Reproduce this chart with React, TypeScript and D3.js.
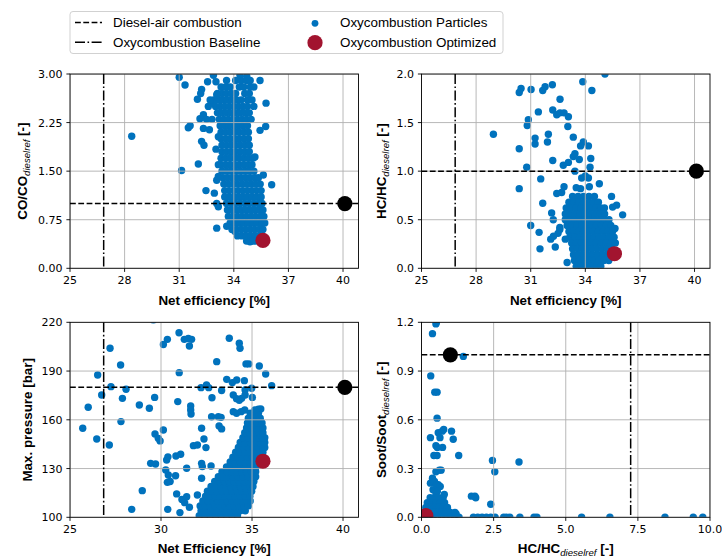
import React from 'react';
import * as d3 from 'd3';

const BLUE = '#0072BD';
const RED = '#A2142F';

// ---- reference operating points ----
const EFF_BASELINE = 26.85;
const EFF_DIESEL = 40.1;
const EFF_OPT = 35.6;
const CO_DIESEL = 1.0;
const CO_OPT = 0.43;
const HC_DIESEL = 1.0;
const HC_OPT = 0.15;
const HC_BASELINE = 7.25;
const PMAX_DIESEL = 180;
const PMAX_OPT = 134.5;
const SOOT_DIESEL = 1.0;
const SOOT_OPT = 0.01;

// ---- tick labels ----
const EFF_TICKS_A = [25, 28, 31, 34, 37, 40];
const EFF_TICKS_B = [25, 30, 35, 40];
const CO_TICKS = [0, 0.75, 1.5, 2.25, 3.0];
const HC_TICKS = [0, 0.5, 1.0, 1.5, 2.0];
const PMAX_TICKS = [100, 130, 160, 190, 220];
const HCX_TICKS = [0, 2.5, 5.0, 7.5, 10.0];
const SOOT_TICKS = [0, 0.3, 0.6, 0.9, 1.2];

// ---- CO vs efficiency: scattered particles ----
const coScatter: [number, number][] = [
  [28.39, 2.04], [31.0, 2.95], [31.32, 2.83], [31.13, 1.51], [31.5, 2.17], [31.6, 2.2], [32.05, 1.61],
  [32.18, 2.7], [32.23, 2.76], [32.14, 2.31], [32.33, 2.37], [32.23, 1.96], [32.36, 1.9], [32.33, 2.16],
  [32.0, 2.61], [32.47, 1.2], [32.93, 1.16], [32.66, 2.14], [32.56, 2.88], [33.02, 2.88], [32.88, 2.98],
  [33.06, 0.62], [33.15, 0.95], [33.06, 1.0], [33.06, 1.36], [33.15, 1.42], [33.15, 1.6], [33.02, 1.84],
  [33.15, 2.03], [32.88, 2.55], [33.06, 2.68], [33.61, 0.65], [34.07, 0.57], [34.89, 0.41], [35.05, 0.42],
  [35.44, 2.9], [35.77, 2.55], [35.75, 2.19], [35.44, 2.13], [36.08, 1.29], [35.62, 1.44], [35.16, 1.72],
  [34.71, 2.96], [34.34, 2.98], [32.7, 2.6], [32.6, 2.5], [32.8, 2.3], [32.5, 2.3],
];
// ---- CO vs efficiency: dense cloud, rows of [CO, efficiencies] ----
const coCloud: [number, number[]][] = [
  [2.9, [33.6, 34.1, 34.4, 34.7, 34.9]],
  [2.8, [33.3, 33.55, 33.8, 34.3, 34.55, 34.9, 35.1]],
  [2.7, [33.1, 33.35, 33.6, 33.85, 34.1, 34.6, 34.85]],
  [2.6, [32.9, 33.15, 33.4, 33.65, 33.9, 34.15, 34.4, 34.75, 35.0]],
  [2.5, [33.0, 33.25, 33.5, 33.75, 34.0, 34.25, 34.5, 34.75, 35.1]],
  [2.4, [33.1, 33.35, 33.6, 33.85, 34.1, 34.35, 34.6, 34.85]],
  [2.3, [33.2, 33.45, 33.7, 33.95, 34.2, 34.45, 34.7, 34.95]],
  [2.2, [33.25, 33.5, 33.75, 34.0, 34.25, 34.5, 34.75]],
  [2.1, [33.3, 33.55, 33.8, 34.05, 34.3, 34.55, 34.8]],
  [2.0, [33.3, 33.55, 33.8, 34.05, 34.3, 34.55, 34.8]],
  [1.9, [33.35, 33.6, 33.85, 34.1, 34.35, 34.6, 34.85]],
  [1.8, [33.35, 33.6, 33.85, 34.1, 34.35, 34.6, 34.85]],
  [1.7, [33.3, 33.55, 33.8, 34.05, 34.3, 34.55, 34.8, 35.05]],
  [1.6, [33.3, 33.55, 33.8, 34.05, 34.3, 34.55, 34.8, 35.0]],
  [1.5, [33.35, 33.6, 33.85, 34.1, 34.35, 34.6, 34.85, 35.1]],
  [1.4, [33.4, 33.65, 33.9, 34.15, 34.4, 34.65, 34.9, 35.15, 35.35]],
  [1.3, [33.45, 33.7, 33.95, 34.2, 34.45, 34.7, 34.95, 35.2, 35.45]],
  [1.2, [33.5, 33.75, 34.0, 34.25, 34.5, 34.75, 35.0, 35.25, 35.5]],
  [1.1, [33.5, 33.75, 34.0, 34.25, 34.5, 34.75, 35.0, 35.25, 35.5]],
  [1.0, [33.6, 33.85, 34.1, 34.35, 34.6, 34.85, 35.1, 35.35, 35.55]],
  [0.9, [33.65, 33.9, 34.15, 34.4, 34.65, 34.9, 35.15, 35.4, 35.6]],
  [0.8, [33.7, 33.95, 34.2, 34.45, 34.7, 34.95, 35.2, 35.45, 35.65]],
  [0.7, [33.8, 34.05, 34.3, 34.55, 34.8, 35.05, 35.3, 35.55, 35.7]],
  [0.6, [33.9, 34.15, 34.4, 34.65, 34.9, 35.15, 35.4, 35.6]],
  [0.5, [34.2, 34.45, 34.7, 34.95, 35.2, 35.45]],
  [0.42, [34.7, 34.95, 35.2, 35.45]],
];

// ---- HC vs efficiency ----
const hcScatter: [number, number][] = [
  [28.95, 1.38], [30.37, 1.81], [30.47, 1.85], [30.37, 0.82], [30.37, 1.23], [30.78, 1.04], [30.81, 1.47],
  [30.87, 1.53], [31.02, 1.84], [31.0, 0.44], [31.24, 1.34], [31.24, 1.28], [31.42, 1.61], [31.46, 0.37],
  [31.51, 0.2], [31.55, 0.92], [31.66, 0.67], [31.66, 1.83], [31.79, 1.87], [31.92, 1.3], [31.97, 1.38],
  [32.19, 1.89], [32.21, 1.63], [32.21, 1.11], [32.61, 1.74], [32.43, 1.58], [32.61, 1.6], [32.83, 1.6],
  [33.07, 1.56], [33.04, 1.46], [32.79, 1.06], [33.07, 1.09], [33.34, 1.35], [33.34, 1.15], [33.43, 1.18],
  [33.67, 1.12], [33.43, 1.0], [33.86, 1.92], [34.36, 1.83], [35.08, 2.0], [33.89, 1.3], [33.74, 1.26],
  [34.17, 1.26], [34.3, 1.13], [34.26, 1.04], [34.17, 0.93], [34.0, 0.95], [33.8, 0.93], [33.74, 0.82],
  [33.5, 0.83], [34.22, 0.84], [34.77, 0.87], [32.83, 0.84], [32.7, 0.78], [35.72, 0.65], [35.5, 0.63],
  [36.05, 0.55], [35.44, 0.74], [35.63, 0.41], [33.0, 0.06], [32.15, 0.57], [32.24, 0.5], [32.6, 0.42],
  [32.5, 0.36], [32.25, 0.33], [32.1, 0.3], [32.35, 0.22], [32.6, 0.4], [32.9, 0.3], [32.43, 0.77],
];
const hcCloud: [number, number[]][] = [
  [0.74, [33.3, 33.6, 33.9, 34.2, 34.5]],
  [0.68, [33.1, 33.37, 33.64, 33.91, 34.18, 34.45, 34.72]],
  [0.62, [32.95, 33.22, 33.49, 33.76, 34.03, 34.3, 34.57, 34.84, 35.05]],
  [0.56, [32.9, 33.17, 33.44, 33.71, 33.98, 34.25, 34.52, 34.79, 35.06]],
  [0.5, [32.9, 33.17, 33.44, 33.71, 33.98, 34.25, 34.52, 34.79, 35.06, 35.3]],
  [0.44, [33.0, 33.27, 33.54, 33.81, 34.08, 34.35, 34.62, 34.89, 35.16, 35.4]],
  [0.38, [33.1, 33.37, 33.64, 33.91, 34.18, 34.45, 34.72, 34.99, 35.26, 35.5]],
  [0.32, [33.15, 33.42, 33.69, 33.96, 34.23, 34.5, 34.77, 35.04, 35.31, 35.58]],
  [0.26, [33.25, 33.52, 33.79, 34.06, 34.33, 34.6, 34.87, 35.14, 35.41, 35.65]],
  [0.2, [33.3, 33.57, 33.84, 34.11, 34.38, 34.65, 34.92, 35.19, 35.46]],
  [0.14, [33.35, 33.62, 33.89, 34.16, 34.43, 34.7, 34.97, 35.24, 35.5]],
  [0.08, [33.4, 33.67, 33.94, 34.21, 34.48, 34.75, 35.02, 35.29]],
  [0.02, [33.5, 33.77, 34.04, 34.31, 34.58, 34.85]],
];

// ---- Max. pressure vs efficiency ----
const pmaxScatter: [number, number][] = [
  [25.7, 154.8], [26.0, 167.7], [26.47, 148.2], [26.52, 187.6], [26.74, 175.3], [27.2, 204.0], [27.16, 144.5],
  [27.25, 180.4], [27.78, 193.7], [27.8, 158.9], [27.88, 173.2], [28.08, 178.8], [28.39, 104.9], [28.81, 169.1],
  [28.97, 116.4], [29.36, 167.1], [29.43, 133.2], [29.58, 221.5], [29.65, 173.8], [29.67, 151.3], [29.85, 148.6],
  [29.95, 147.0], [29.7, 132.8], [30.13, 206.3], [30.35, 209.5], [30.13, 153.7], [30.31, 135.3], [30.38, 137.2],
  [30.26, 129.1], [30.4, 126.0], [30.5, 122.0], [30.35, 121.5], [30.37, 104.9], [30.8, 125.6], [30.86, 114.4],
  [30.92, 171.2], [30.99, 213.6], [31.0, 189.0], [30.82, 137.7], [31.08, 138.8], [31.04, 102.9], [31.3, 109.0],
  [31.15, 111.0], [31.28, 209.5], [31.5, 210.0], [31.68, 209.5], [31.56, 205.4], [31.41, 130.2], [31.41, 112.7],
  [31.56, 106.2], [31.63, 168.5], [31.63, 166.0], [31.65, 163.6], [31.78, 144.1], [32.0, 144.5], [32.2, 179.8],
  [32.5, 181.4], [32.62, 179.8], [32.23, 154.8], [32.36, 148.2], [32.23, 133.2], [32.27, 131.2], [32.47, 142.9],
  [32.8, 173.6], [32.78, 161.9], [32.75, 131.6], [33.06, 195.8], [33.15, 161.9], [33.3, 161.5], [33.19, 156.2],
  [33.33, 154.4], [33.33, 178.0], [33.61, 184.9], [33.75, 210.2], [33.92, 182.9], [34.16, 184.5], [34.3, 207.1],
  [34.34, 204.0], [33.97, 175.3], [34.15, 173.0], [34.3, 172.0], [34.43, 173.2], [34.62, 175.3], [34.58, 184.1],
  [34.67, 194.4], [34.82, 194.4], [34.62, 178.4], [34.98, 179.4], [35.02, 173.8], [35.4, 193.1], [35.75, 188.2],
  [36.08, 181.0], [33.97, 165.0], [34.15, 164.0], [34.4, 165.0], [34.6, 166.0], [35.16, 166.0], [35.35, 166.5],
  [35.48, 166.7], [35.1, 162.0], [35.3, 163.0], [32.0, 113.7], [32.23, 124.0],
];
const pmaxCloud: [number, number[]][] = [
  [101, [32.1, 32.4, 32.7, 33.0, 33.3, 33.6, 33.9, 34.2]],
  [104, [32.2, 32.47, 32.74, 33.01, 33.28, 33.55, 33.82, 34.09, 34.36, 34.63]],
  [107, [32.15, 32.42, 32.69, 32.96, 33.23, 33.5, 33.77, 34.04, 34.31, 34.58, 34.8]],
  [110, [32.3, 32.57, 32.84, 33.11, 33.38, 33.65, 33.92, 34.19, 34.46, 34.73, 34.9]],
  [113, [32.45, 32.72, 32.99, 33.26, 33.53, 33.8, 34.07, 34.34, 34.61, 34.88]],
  [116, [32.55, 32.82, 33.09, 33.36, 33.63, 33.9, 34.17, 34.44, 34.71, 34.98]],
  [119, [32.75, 33.02, 33.29, 33.56, 33.83, 34.1, 34.37, 34.64, 34.91, 35.05]],
  [122, [32.95, 33.22, 33.49, 33.76, 34.03, 34.3, 34.57, 34.84, 35.1]],
  [125, [33.15, 33.42, 33.69, 33.96, 34.23, 34.5, 34.77, 35.04, 35.2]],
  [128, [33.35, 33.62, 33.89, 34.16, 34.43, 34.7, 34.97, 35.2]],
  [131, [33.6, 33.87, 34.14, 34.41, 34.68, 34.95, 35.22]],
  [134, [33.8, 34.07, 34.34, 34.61, 34.88, 35.15, 35.3]],
  [137, [33.95, 34.22, 34.49, 34.76, 35.03, 35.3, 35.4]],
  [140, [34.1, 34.37, 34.64, 34.91, 35.18, 35.45, 35.6]],
  [143, [34.25, 34.52, 34.79, 35.06, 35.33, 35.6, 35.7]],
  [146, [34.35, 34.62, 34.89, 35.16, 35.43, 35.7]],
  [149, [34.5, 34.77, 35.04, 35.31, 35.58, 35.7]],
  [152, [34.6, 34.87, 35.14, 35.41, 35.6]],
  [155, [34.7, 34.97, 35.24, 35.5, 35.6]],
  [158, [34.75, 35.02, 35.29, 35.55]],
  [161, [34.8, 35.07, 35.34, 35.45]],
  [164, [34.9, 35.17, 35.35]],
];

// ---- Soot vs HC ----
const sootScatter: [number, number][] = [
  [0.5, 1.19], [0.52, 1.2], [0.38, 1.13], [1.45, 0.99], [0.32, 0.87], [0.46, 0.77], [0.54, 0.77], [0.54, 0.61],
  [0.31, 0.49], [0.58, 0.52], [0.64, 0.49], [0.72, 0.53], [0.77, 0.54], [1.04, 0.53], [1.1, 0.48], [0.5, 0.44],
  [0.55, 0.43], [0.73, 0.43], [0.43, 0.38], [0.54, 0.38], [1.29, 0.38], [2.46, 0.35], [3.38, 0.34], [2.54, 0.28],
  [0.5, 0.28], [0.62, 0.29], [0.68, 0.29], [0.31, 0.21], [0.38, 0.24], [0.45, 0.22], [0.52, 0.2], [0.58, 0.2],
  [0.65, 0.19], [0.4, 0.17], [0.5, 0.15], [0.55, 0.16], [0.79, 0.14], [1.73, 0.13], [1.85, 0.13], [1.88, 0.12],
  [2.4, 0.08], [1.16, 0.03], [1.2, 0.02], [1.8, 0.0], [1.95, 0.0], [2.1, 0.0], [2.25, 0.0], [2.4, 0.0],
  [2.55, 0.0], [2.85, 0.0], [2.95, 0.0], [3.06, 0.0], [3.41, 0.0], [3.9, 0.0], [4.0, 0.0], [5.55, 0.0],
  [6.53, 0.0], [8.44, 0.0], [9.42, 0.0], [9.75, 0.0],
];
const sootCloud: [number, number[]][] = [
  [0.12, [0.3, 0.45, 0.6, 0.75]],
  [0.09, [0.2, 0.35, 0.5, 0.65, 0.8]],
  [0.06, [0.15, 0.3, 0.45, 0.6, 0.75, 0.9]],
  [0.03, [0.1, 0.25, 0.4, 0.55, 0.7, 0.85, 1.0]],
  [0.0, [0.1, 0.25, 0.4, 0.55, 0.7, 0.85, 1.0, 1.15, 1.3]],
];

const flatten = (scatter: [number, number][], cloud: [number, number[]][]) => {
  const out: [number, number][] = [];
  cloud.forEach(([y, xs]) => xs.forEach((x) => out.push([x, y])));
  scatter.forEach((p) => out.push(p));
  return out;
};

type YLab = { main: string; sub?: string; tail?: string };
type XLab = { main: string; sub?: string; tail?: string };

interface PanelDef {
  id: string;
  left: number; right: number; top: number; bottom: number;
  xDomain: [number, number]; yDomain: [number, number];
  xTicks: number[]; yTicks: number[];
  xFmt: (v: number) => string; yFmt: (v: number) => string;
  pts: [number, number][];
  vx: number; hy: number;
  diesel: [number, number]; opt: [number, number];
  xLab: XLab; yLab: YLab; yLabX: number; xLabY: number;
}

const fInt = d3.format('d');
const f1 = d3.format('.1f');
const f2 = d3.format('.2f');

const L = 70, R = 358.5, L2 = 421.5, R2 = 710;
const T1 = 74, B1 = 268.3, T2 = 322.3, B2 = 517.3;

const panels: PanelDef[] = [
  {
    id: 'co', left: L, right: R, top: T1, bottom: B1,
    xDomain: [25, 40.85], yDomain: [0, 3], xTicks: EFF_TICKS_A, yTicks: CO_TICKS,
    xFmt: fInt, yFmt: f2, pts: flatten(coScatter, coCloud),
    vx: EFF_BASELINE, hy: CO_DIESEL, diesel: [EFF_DIESEL, CO_DIESEL], opt: [EFF_OPT, CO_OPT],
    xLab: { main: 'Net efficiency [%]' }, yLab: { main: 'CO/CO', sub: 'dieselref', tail: ' [-]' }, yLabX: 26.5, xLabY: 304.5,
  },
  {
    id: 'hc', left: L2, right: R2, top: T1, bottom: B1,
    xDomain: [25, 40.85], yDomain: [0, 2], xTicks: EFF_TICKS_A, yTicks: HC_TICKS,
    xFmt: fInt, yFmt: f1, pts: flatten(hcScatter, hcCloud),
    vx: EFF_BASELINE, hy: HC_DIESEL, diesel: [EFF_DIESEL, HC_DIESEL], opt: [EFF_OPT, HC_OPT],
    xLab: { main: 'Net efficiency [%]' }, yLab: { main: 'HC/HC', sub: 'dieselref', tail: ' [-]' }, yLabX: 385.8, xLabY: 304.5,
  },
  {
    id: 'pm', left: L, right: R, top: T2, bottom: B2,
    xDomain: [25, 40.85], yDomain: [100, 220], xTicks: EFF_TICKS_B, yTicks: PMAX_TICKS,
    xFmt: fInt, yFmt: fInt, pts: flatten(pmaxScatter, pmaxCloud),
    vx: EFF_BASELINE, hy: PMAX_DIESEL, diesel: [EFF_DIESEL, PMAX_DIESEL], opt: [EFF_OPT, PMAX_OPT],
    xLab: { main: 'Net Efficiency [%]' }, yLab: { main: 'Max. pressure [bar]' }, yLabX: 31.5, xLabY: 553,
  },
  {
    id: 'so', left: L2, right: R2, top: T2, bottom: B2,
    xDomain: [0, 10], yDomain: [0, 1.2], xTicks: HCX_TICKS, yTicks: SOOT_TICKS,
    xFmt: f1, yFmt: f1, pts: flatten(sootScatter, sootCloud),
    vx: HC_BASELINE, hy: SOOT_DIESEL, diesel: [HC_DIESEL, SOOT_DIESEL], opt: [HC_OPT, SOOT_OPT],
    xLab: { main: 'HC/HC', sub: 'dieselref', tail: ' [-]' }, yLab: { main: 'Soot/Soot', sub: 'dieselref', tail: ' [-]' }, yLabX: 385.8, xLabY: 553,
  },
];

const LABEL_FONT = '"Liberation Sans", Arial, sans-serif';
const TICK_FONT = '"DejaVu Sans", sans-serif';
const DASH = '5.8,2.5';
const DASHDOT = '10,2.5,1.6,2.5';

function Label({ lab }: { lab: YLab }) {
  return (
    <>
      <tspan fontWeight="bold">{lab.main}</tspan>
      {lab.sub && (
        <tspan fontStyle="italic" fontWeight="normal" fontSize={9.6} dy={3}>{lab.sub}</tspan>
      )}
      {lab.tail && <tspan fontWeight="bold" dy={-3}>{lab.tail}</tspan>}
    </>
  );
}

function Panel({ p }: { p: PanelDef }) {
  const x = d3.scaleLinear().domain(p.xDomain).range([p.left, p.right]);
  const y = d3.scaleLinear().domain(p.yDomain).range([p.bottom, p.top]);
  const cid = `clip-${p.id}`;
  const cx = (p.left + p.right) / 2;
  const cy = (p.top + p.bottom) / 2;
  return (
    <g>
      <defs>
        <clipPath id={cid}>
          <rect x={p.left} y={p.top} width={p.right - p.left} height={p.bottom - p.top} />
        </clipPath>
      </defs>
      <g clipPath={`url(#${cid})`}>
        {p.pts.map(([a, b], i) => (
          <circle key={i} cx={x(a)} cy={y(b)} r={3.7} fill={BLUE} />
        ))}
        {p.xTicks.map((t) => (
          <line key={'gx' + t} x1={x(t)} x2={x(t)} y1={p.top} y2={p.bottom} stroke="#b0b0b0" strokeWidth={0.9} />
        ))}
        {p.yTicks.map((t) => (
          <line key={'gy' + t} x1={p.left} x2={p.right} y1={y(t)} y2={y(t)} stroke="#b0b0b0" strokeWidth={0.9} />
        ))}
        <line x1={x(p.vx)} x2={x(p.vx)} y1={p.top} y2={p.bottom} stroke="#000" strokeWidth={1.5} strokeDasharray={DASHDOT} />
        <line x1={p.left} x2={p.right} y1={y(p.hy)} y2={y(p.hy)} stroke="#000" strokeWidth={1.5} strokeDasharray={DASH} />
        <circle cx={x(p.diesel[0])} cy={y(p.diesel[1])} r={7.6} fill="#000" />
        <circle cx={x(p.opt[0])} cy={y(p.opt[1])} r={7.6} fill={RED} />
      </g>
      <rect x={p.left} y={p.top} width={p.right - p.left} height={p.bottom - p.top} fill="none" stroke="#000" strokeWidth={0.9} />
      {p.xTicks.map((t) => (
        <g key={'tx' + t}>
          <line x1={x(t)} x2={x(t)} y1={p.bottom} y2={p.bottom + 3.6} stroke="#000" strokeWidth={0.9} />
          <text x={x(t)} y={p.bottom + 15.7} textAnchor="middle" fontFamily={TICK_FONT} fontSize={11} fill="#000">
            {p.xFmt(t)}
          </text>
        </g>
      ))}
      {p.yTicks.map((t) => (
        <g key={'ty' + t}>
          <line x1={p.left - 3.6} x2={p.left} y1={y(t)} y2={y(t)} stroke="#000" strokeWidth={0.9} />
          <text x={p.left - 7.5} y={y(t)} dy="0.36em" textAnchor="end" fontFamily={TICK_FONT} fontSize={11} fill="#000">
            {p.yFmt(t)}
          </text>
        </g>
      ))}
      <text x={cx} y={p.xLabY} textAnchor="middle" fontFamily={LABEL_FONT} fontSize={13.4} fill="#000">
        <Label lab={p.xLab} />
      </text>
      <text transform={`translate(${p.yLabX},${cy}) rotate(-90)`} textAnchor="middle" fontFamily={LABEL_FONT} fontSize={13.4} fill="#000">
        <Label lab={p.yLab} />
      </text>
    </g>
  );
}

const LEGEND_LEFT = ['Diesel-air combustion', 'Oxycombustion Baseline'];
const LEGEND_RIGHT = ['Oxycombustion Particles', 'Oxycombustion Optimized'];

function Legend() {
  const rows = [22.5, 42.2];
  return (
    <g fontFamily={LABEL_FONT} fontSize={13.4}>
      <rect x={70} y={11.5} width={433} height={42} rx={3} fill="#fff" stroke="#cccccc" strokeWidth={0.9} />
      <line x1={75} x2={102} y1={rows[0]} y2={rows[0]} stroke="#000" strokeWidth={1.5} strokeDasharray={DASH} />
      <line x1={75} x2={102} y1={rows[1]} y2={rows[1]} stroke="#000" strokeWidth={1.5} strokeDasharray={DASHDOT} />
      <text x={113} y={rows[0]} dy="0.35em">{LEGEND_LEFT[0]}</text>
      <text x={113} y={rows[1]} dy="0.35em">{LEGEND_LEFT[1]}</text>
      <circle cx={315} cy={rows[0] + 0.8} r={3.4} fill={BLUE} />
      <circle cx={315} cy={rows[1] + 0.5} r={7.6} fill={RED} />
      <text x={340} y={rows[0]} dy="0.35em">{LEGEND_RIGHT[0]}</text>
      <text x={340} y={rows[1]} dy="0.35em">{LEGEND_RIGHT[1]}</text>
    </g>
  );
}

export default function App() {
  return (
    <svg width={722} height={558} style={{ position: 'absolute', left: 0, top: 0, background: '#fff' }}>
      <rect x={0} y={0} width={722} height={558} fill="#fff" />
      {panels.map((p) => (
        <Panel key={p.id} p={p} />
      ))}
      <Legend />
    </svg>
  );
}
